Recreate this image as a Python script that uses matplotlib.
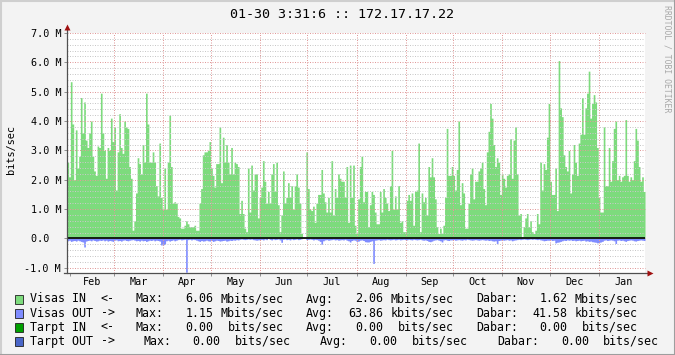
import numpy as np
import pandas as pd
import matplotlib
matplotlib.use("Agg")
import matplotlib.pyplot as plt
import matplotlib.dates as mdates
from matplotlib.lines import Line2D
from matplotlib.patches import Rectangle

# ---------------- data ----------------
title = "01-30 3:31:6 :: 172.17.17.22"
y_label = "bits/sec"
watermark = "RRDTOOL / TOBI OETIKER"
start = pd.Timestamp("2009-01-30 03:31:06")
end = pd.Timestamp("2010-01-30 03:31:06")

# Visas IN (Mbits/sec), roughly one value per day
visas_in = [
    # Feb
    2.6, 2.1, 5.34, 3.9, 2.0, 3.7, 2.4, 2.8, 4.8, 3.6, 4.65, 3.35, 3.1, 3.6, 4.0, 2.8, 2.3, 2.15, 3.15, 3.1,
    4.95, 3.6, 3.0, 2.05, 3.1, 3.0, 4.1, 3.3, 3.8, 1.65, 2.95, 4.25, 3.1, 2.9, 4.0, 3.8, 3.75, 2.45, 2.05, 0.28,
    0.6, 1.55, 2.75, 2.55, 2.2, 3.2, 2.6, 4.95, 3.9, 2.6, 2.6, 2.95, 2.6, 1.8, 1.45, 3.25, 1.4,
    # Apr - May
    1.0, 2.4, 1.0, 2.6, 4.2, 2.45, 1.2, 1.25, 1.2, 0.75, 0.7, 0.35, 0.35, 0.45, 0.6, 0.5, 0.4, 0.4, 0.4, 0.45,
    0.28, 0.28, 1.2, 1.7, 2.85, 2.95, 2.95, 3.0, 3.3, 2.4, 2.15, 1.75, 2.55, 2.55, 3.8, 1.9, 3.45, 2.6, 3.2, 2.6,
    2.2, 3.1, 2.2, 2.6, 2.55, 2.45, 0.85, 1.3, 0.85, 0.35, 0.23, 2.4, 0.9, 2.5, 1.65, 2.2, 2.2, 0.7,
    # Jun - Jul
    1.4, 1.75, 2.65, 1.95, 1.2, 1.6, 1.2, 2.2, 2.55, 1.6, 2.6, 1.15, 0.23, 0.8, 2.3, 1.2, 1.4, 1.9, 1.4, 1.8,
    1.0, 1.8, 2.2, 1.75, 1.2, 0.17, 0.05, 0.05, 2.95, 1.7, 1.0, 0.95, 1.1, 0.55, 1.2, 1.5, 1.5, 2.35, 1.55, 1.25,
    0.9, 1.4, 0.9, 2.65, 0.8, 1.7, 1.4, 2.2, 2.05, 1.95, 1.95, 1.4, 2.45, 0.55, 2.5, 1.4, 2.5, 0.45,
    # Aug - Sep
    0.17, 1.35, 2.45, 2.8, 1.25, 1.6, 1.6, 0.4, 1.15, 1.6, 1.5, 0.9, 0.5, 0.5, 1.6, 0.9, 1.7, 1.4, 1.2, 0.95,
    1.8, 3.0, 1.0, 1.45, 1.0, 1.8, 0.55, 0.6, 0.23, 0.23, 1.3, 1.5, 1.3, 1.55, 0.45, 1.6, 1.65, 3.25, 0.23, 1.55,
    1.25, 1.4, 0.8, 2.45, 2.1, 2.75, 2.1, 1.35, 0.4, 0.17, 0.35, 0.17, 0.45, 1.4, 3.75, 2.15, 2.15,
    # Oct - Nov
    2.45, 2.15, 1.65, 2.35, 4.0, 1.15, 1.9, 1.55, 0.35, 0.35, 1.2, 2.2, 2.4, 1.35, 1.95, 1.95, 2.3, 2.4, 2.6, 1.7,
    1.15, 2.95, 3.65, 4.6, 4.1, 3.2, 2.45, 2.75, 2.6, 1.5, 2.2, 2.05, 1.75, 2.15, 2.2, 3.4, 2.05, 3.35, 3.8, 2.2,
    0.8, 0.85, 0.06, 0.4, 0.7, 0.85, 0.4, 0.6, 0.23, 0.17, 0.28, 0.85, 0.5, 2.6, 1.65, 2.55, 2.35, 3.45,
    # Dec - Jan
    4.6, 1.95, 1.5, 1.5, 2.4, 0.95, 6.06, 4.45, 4.15, 2.85, 2.45, 2.3, 3.0, 1.55, 2.2, 3.2, 2.6, 2.15, 3.25, 3.55,
    4.8, 3.55, 4.45, 4.95, 5.7, 4.1, 4.6, 4.9, 4.65, 3.1, 1.4, 0.9, 0.9, 3.8, 1.8, 1.8, 3.1, 1.95, 2.65, 3.75,
    4.0, 2.0, 2.15, 1.95, 2.1, 2.15, 4.05, 2.15, 1.95, 2.1, 2.0, 2.65, 3.75, 3.35, 2.45, 1.95, 2.1, 1.6,
]

# Visas OUT (Mbits/sec, drawn below zero)
visas_out = [
    0.08, 0.06, 0.1, 0.08, 0.07, 0.09, 0.06, 0.08, 0.1, 0.12, 0.29, 0.09, 0.07, 0.06, 0.08, 0.05, 0.07, 0.09, 0.08, 0.06,
    0.07, 0.05, 0.08, 0.06, 0.09, 0.07, 0.08, 0.1, 0.06, 0.05, 0.08, 0.07, 0.09, 0.06, 0.05, 0.07, 0.08, 0.06, 0.05, 0.04,
    0.06, 0.08, 0.07, 0.09, 0.06, 0.08, 0.07, 0.1, 0.08, 0.06, 0.07, 0.05, 0.08, 0.06, 0.07, 0.09, 0.22,
    0.22, 0.2, 0.08, 0.06, 0.09, 0.07, 0.05, 0.08, 0.06, 0.04, 0.03, 0.05, 0.04, 0.03, 1.15, 0.04, 0.03, 0.05, 0.03, 0.04,
    0.06, 0.08, 0.1, 0.07, 0.09, 0.08, 0.06, 0.08, 0.09, 0.07, 0.1, 0.08, 0.06, 0.07, 0.09, 0.08, 0.07, 0.06, 0.09, 0.08,
    0.06, 0.07, 0.05, 0.06, 0.04, 0.05, 0.03, 0.02, 0.03, 0.04, 0.03, 0.02, 0.03, 0.02, 0.04, 0.05, 0.06, 0.05,
    0.04, 0.03, 0.05, 0.02, 0.04, 0.0, 0.03, 0.05, 0.02, 0.04, 0.03, 0.02, 0.05, 0.13, 0.03, 0.02, 0.04, 0.03, 0.05, 0.02,
    0.04, 0.03, 0.02, 0.04, 0.03, 0.01, 0.0, 0.0, 0.04, 0.03, 0.02, 0.03, 0.05, 0.03, 0.04, 0.06, 0.1, 0.2, 0.08, 0.05,
    0.04, 0.06, 0.05, 0.04, 0.03, 0.05, 0.04, 0.06, 0.05, 0.04, 0.05, 0.03, 0.06, 0.08, 0.12, 0.07, 0.05, 0.06,
    0.1, 0.09, 0.06, 0.05, 0.07, 0.11, 0.12, 0.12, 0.1, 0.08, 0.85, 0.06, 0.05, 0.04, 0.06, 0.05, 0.04, 0.05, 0.03, 0.04,
    0.05, 0.04, 0.03, 0.05, 0.04, 0.03, 0.05, 0.04, 0.03, 0.04, 0.05, 0.03, 0.04, 0.05, 0.03, 0.04, 0.05, 0.04, 0.03, 0.05,
    0.06, 0.05, 0.07, 0.1, 0.11, 0.09, 0.06, 0.05, 0.04, 0.06, 0.08, 0.12, 0.05, 0.04, 0.06, 0.07, 0.05,
    0.05, 0.04, 0.06, 0.05, 0.04, 0.05, 0.06, 0.04, 0.05, 0.03, 0.04, 0.05, 0.06, 0.05, 0.04, 0.05, 0.06, 0.05, 0.04, 0.05,
    0.06, 0.05, 0.07, 0.06, 0.08, 0.09, 0.08, 0.17, 0.07, 0.06, 0.05, 0.06, 0.05, 0.04, 0.06, 0.05, 0.08, 0.06, 0.05, 0.04,
    0.03, 0.04, 0.03, 0.02, 0.03, 0.04, 0.03, 0.02, 0.03, 0.02, 0.03, 0.04, 0.03, 0.05, 0.06, 0.08, 0.07, 0.06,
    0.06, 0.05, 0.07, 0.06, 0.15, 0.13, 0.12, 0.1, 0.08, 0.06, 0.07, 0.05, 0.06, 0.05, 0.07, 0.06, 0.08, 0.07, 0.06, 0.08,
    0.07, 0.06, 0.09, 0.08, 0.1, 0.09, 0.11, 0.12, 0.13, 0.15, 0.14, 0.12, 0.1, 0.06, 0.05, 0.07, 0.06, 0.05, 0.06, 0.08,
    0.17, 0.06, 0.05, 0.07, 0.06, 0.08, 0.1, 0.07, 0.06, 0.05, 0.06, 0.08, 0.09, 0.07, 0.06, 0.05, 0.06, 0.07,
]

y_ticks = [-1, 0, 1, 2, 3, 4, 5, 6, 7]
y_tick_labels = ["-1.0 M", "0.0  ", "1.0 M", "2.0 M", "3.0 M", "4.0 M", "5.0 M", "6.0 M", "7.0 M"]
month_names = ["Feb", "Mar", "Apr", "May", "Jun", "Jul", "Aug", "Sep", "Oct", "Nov", "Dec", "Jan"]

series_names = ["Visas IN", "Visas OUT", "Tarpt IN", "Tarpt OUT"]
series_dirs = ["<-", "->", "<-", "->"]
series_colors = ["#7ddb7d", "#7f8cff", "#00a000", "#4a66c8"]
max_vals = [6.06, 1.15, 0.00, 0.00]
max_units = ["Mbits/sec", "Mbits/sec", " bits/sec", " bits/sec"]
avg_vals = [2.06, 63.86, 0.00, 0.00]
avg_units = ["Mbits/sec", "kbits/sec", " bits/sec", " bits/sec"]
cur_vals = [1.62, 41.58, 0.00, 0.00]
cur_units = ["Mbits/sec", "kbits/sec", " bits/sec", " bits/sec"]

# ---------------- figure ----------------
W, H = 675, 355
BG = "#f3f3f3"
MONO = "DejaVu Sans Mono"
fig = plt.figure(figsize=(W / 100, H / 100), dpi=100, facecolor=BG)

L, R, T, B = 67, 645, 33, 272.5
ax = fig.add_axes([L / W, 1 - B / H, (R - L) / W, (B - T) / H])
ax.set_facecolor("white")
for s in ax.spines.values():
    s.set_visible(False)

x0, x1 = mdates.date2num(start), mdates.date2num(end)
times = mdates.date2num(pd.date_range(start, end, periods=len(visas_in) + 1))
vin = np.array(visas_in + [visas_in[-1]])
vout = -np.array(visas_out + [visas_out[-1]])

ax.fill_between(times, 0, vin, step="post", color=series_colors[0], lw=0, zorder=2)
ax.fill_between(times, 0, vout, step="post", color=series_colors[1], lw=0, zorder=2)

ax.set_xlim(x0, x1)
ax.set_ylim(-1.16, 7.0)

# grid (drawn over data, like the reference)
minor_vals = [v / 5 for v in range(-5, 36) if v % 5 != 0]
for v in minor_vals:
    ax.axhline(v, color="#c8c8c8", lw=0.72, ls=(0, (1, 1.5)), zorder=3)
for v in y_ticks:
    ax.axhline(v, color="#e09a9a", lw=0.72, ls=(0, (1, 1.5)), zorder=3, clip_on=False)

month_starts = pd.date_range("2009-02-01", "2010-02-01", freq="MS")
for d in month_starts[1:-1]:
    ax.axvline(mdates.date2num(d), color="#e09a9a", lw=0.72, ls=(0, (1, 1.5)), zorder=3)

# zero rule
ax.axhline(0, color="black", lw=1.2, zorder=5)

# ticks
ax.set_yticks(y_ticks)
ax.set_yticklabels(y_tick_labels, family=MONO, fontsize=7.3)
ax.tick_params(axis="y", length=2.2, width=0.7, color="#909090", pad=2.0)

mids = [mdates.date2num(a + (b - a) / 2) for a, b in zip(month_starts[:-1], month_starts[1:])]
ax.set_xticks(mids)
ax.set_xticklabels(month_names, family=MONO, fontsize=7.3)
ax.tick_params(axis="x", which="major", length=0, pad=3.0)
ax.set_xticks([mdates.date2num(d) for d in month_starts[:-1]], minor=True)
ax.tick_params(axis="x", which="minor", length=2.2, width=0.7, color="#909090")

# axis lines with arrows
ax.plot([0, 0], [0, 1.02], transform=ax.transAxes, color="#505050", lw=0.9, clip_on=False, zorder=6)
ax.plot([-0.005, 1.006], [0, 0], transform=ax.transAxes, color="#505050", lw=0.9, clip_on=False, zorder=6)
ax.plot([0], [1.024], marker="^", ms=4.2, color="#a01010", transform=ax.transAxes, clip_on=False, zorder=7, mec="none")
ax.plot([1.008], [0], marker=">", ms=4.2, color="#a01010", transform=ax.transAxes, clip_on=False, zorder=7, mec="none")

# texts
fig.text(341.5 / W, 1 - 14 / H, title, family=MONO, fontsize=9.6, ha="center", va="center")
fig.text(11 / W, 1 - 149 / H, y_label, family=MONO, fontsize=7.4, rotation=90, ha="center", va="center")
fig.text(667 / W, 1 - 5 / H, watermark, family=MONO, fontsize=5.9, rotation=270,
         ha="center", va="top", color="#a8a8a8")

# legend rows: each field placed at its character column of the monospaced legend
row_y = [299, 313.3, 327.3, 341.3]
col_max = [15, 15, 15, 16]
col_maxnum_end = [26, 26, 26, 27]
col_avg = [39, 39, 39, 41]
col_avgnum_end = [50, 50, 50, 52]
col_cur = [63, 63, 63, 66]
col_curnum_end = [76, 76, 76, 79]
X_LEG, ADV = 29.8, 7.08


def put(col, s, y):
    fig.text((X_LEG + col * ADV) / W, y, s, family=MONO, fontsize=8.42, ha="left", va="center")


for i in range(4):
    y = 1 - row_y[i] / H
    put(0, series_names[i], y)
    put(10, series_dirs[i], y)
    put(col_max[i], "Max:", y)
    ms = f"{max_vals[i]:.2f}"
    put(col_maxnum_end[i] - len(ms), ms, y)
    u = max_units[i]
    put(col_maxnum_end[i] + 1 + (len(u) - len(u.lstrip())), u.strip(), y)
    put(col_avg[i], "Avg:", y)
    a = f"{avg_vals[i]:.2f}"
    put(col_avgnum_end[i] - len(a), a, y)
    u = avg_units[i]
    put(col_avgnum_end[i] + 1 + (len(u) - len(u.lstrip())), u.strip(), y)
    put(col_cur[i], "Dabar:", y)
    c = f"{cur_vals[i]:.2f}"
    put(col_curnum_end[i] - len(c), c, y)
    u = cur_units[i]
    put(col_curnum_end[i] + 1 + (len(u) - len(u.lstrip())), u.strip(), y)
    fig.add_artist(Rectangle((15 / W, 1 - (row_y[i] + 4.5) / H), 8 / W, 9 / H,
                             transform=fig.transFigure, facecolor=series_colors[i],
                             edgecolor="#202020", lw=0.6))

# outer 3D border
fig.add_artist(Line2D([0, 1], [1 - 0.5 / H, 1 - 0.5 / H], transform=fig.transFigure, color="#cfcfcf", lw=1.5))
fig.add_artist(Line2D([0.5 / W, 0.5 / W], [0, 1], transform=fig.transFigure, color="#cfcfcf", lw=1.5))
fig.add_artist(Line2D([0, 1], [0.5 / H, 0.5 / H], transform=fig.transFigure, color="#9e9e9e", lw=1.5))
fig.add_artist(Line2D([1 - 0.5 / W, 1 - 0.5 / W], [0, 1], transform=fig.transFigure, color="#9e9e9e", lw=1.5))

fig.savefig("out.png", dpi=100, facecolor=BG)
